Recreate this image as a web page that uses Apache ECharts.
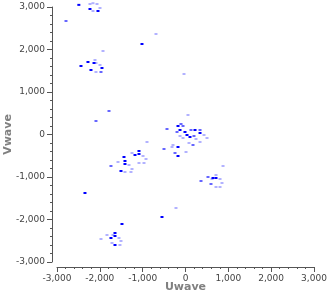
<!DOCTYPE html>
<html><head><meta charset="utf-8">
<script src="https://cdn.jsdelivr.net/npm/echarts@6/dist/echarts.min.js"></script>
<style>html,body{margin:0;padding:0;background:#fff}#c{width:327px;height:293px}</style>
</head><body><div id="c"></div>
<script>
var xTicks = [-3000, -2000, -1000, 0, 1000, 2000, 3000];
var yTicks = [-3000, -2000, -1000, 0, 1000, 2000, 3000];
var xName = 'Uwave';
var yName = 'Vwave';

// Points drawn at full opacity
var pointsDark = [
  [-2490, 3050], [-2230, 2953], [-2043, 2906], [-1016, 2129],
  [-2277, 1706], [-2136, 1682], [-2440, 1612], [-2207, 1518], [-1950, 1565],
  [-1086, -388], [-1086, -459], [-1179, -482], [-1436, -529], [-1413, -624], [-1413, -694], [-1506, -859],
  [-175, 200], [-128, 106], [-12, 59], [222, 106], [339, 35], [35, -12], [105, -59], [-175, -506], [-175, -294],
  [642, -1024], [712, -1024],
  [-549, -1941], [-1483, -2106], [-2347, -1377],
  [-1646, -2318], [-1740, -2435], [-1646, -2388], [-1646, -2600]
];
// Points drawn at medium opacity
var pointsMid = [
  [-2790, 2671], [-1973, 1471], [-1786, 553], [-2090, 318], [-1740, -741],
  [-502, -341], [-432, 129], [-105, 247], [-58, 200], [128, 106], [339, 106], [-198, 59], [198, -35],
  [175, -247], [-245, -435],
  [525, -1000], [362, -1094], [595, -1165]
];
// Points drawn at low opacity
var pointsLight = [
  [-2160, 3090], [-2230, 3071], [-2066, 3071], [-1996, 2977], [-2160, 2906],
  [-689, 2365], [-1926, 1965], [-2113, 1753], [-2090, 1682], [-1996, 1635], [-2090, 1471],
  [-35, 1423], [-1576, -647],
  [-899, -176], [-1249, -435], [-992, -506], [-922, -576], [-1319, -718], [-1086, -671], [-969, -671],
  [-1249, -812], [-1413, -882], [-1273, -882],
  [58, 459], [432, -12], [-128, -35], [-58, -82], [245, -106], [502, -82], [339, -176], [82, -200],
  [-292, -247], [-315, -294], [12, -412],
  [876, -741], [712, -953], [619, -1047], [806, -1047], [852, -1141], [712, -1235], [806, -1235],
  [-222, -1729],
  [-1833, -2365], [-1693, -2365], [-1553, -2435], [-1973, -2459], [-1716, -2553], [-1506, -2506], [-1530, -2600]
];

var axisColor = '#555';
var labelColor = '#444';
var fontFam = '"DejaVu Sans", sans-serif';
function fmt(v) { return Number(v).toLocaleString('en-US'); }

function valueAxis(ticks, name, isX) {
  return {
    type: 'value',
    min: ticks[0], max: ticks[ticks.length - 1], interval: ticks[1] - ticks[0],
    offset: 5,
    name: name, nameLocation: 'middle',
    nameGap: isX ? 15 : 38,
    nameMoveOverlap: false,
    nameRotate: isX ? 0 : 90,
    nameTextStyle: { color: '#808080', fontWeight: 'bold', fontSize: 11, fontFamily: fontFam },
    axisLine: { show: true, onZero: false, lineStyle: { color: axisColor, width: 1 } },
    axisTick: { show: true, length: 5, lineStyle: { color: axisColor } },
    minorTick: { show: true, splitNumber: 5, length: 2, lineStyle: { color: axisColor } },
    splitLine: { show: false },
    axisLabel: { color: labelColor, fontSize: 9, fontFamily: fontFam, margin: 7, formatter: fmt, showMinLabel: true, showMaxLabel: true }
  };
}

function series(data, op) {
  return {
    type: 'scatter', data: data, symbol: 'rect', symbolSize: [3, 2], clip: false,
    itemStyle: { color: '#0000ff', opacity: op }, silent: true
  };
}

var chart = echarts.init(document.getElementById('c'), null, { renderer: 'canvas' });
chart.setOption({
  animation: false,
  backgroundColor: '#fff',
  grid: { left: 57, right: 13, top: 7, bottom: 31, containLabel: false, outerBoundsMode: 'none' },
  xAxis: valueAxis(xTicks, xName, true),
  yAxis: valueAxis(yTicks, yName, false),
  series: [series(pointsLight, 0.3), series(pointsMid, 0.6), series(pointsDark, 1)]
});
</script></body></html>
